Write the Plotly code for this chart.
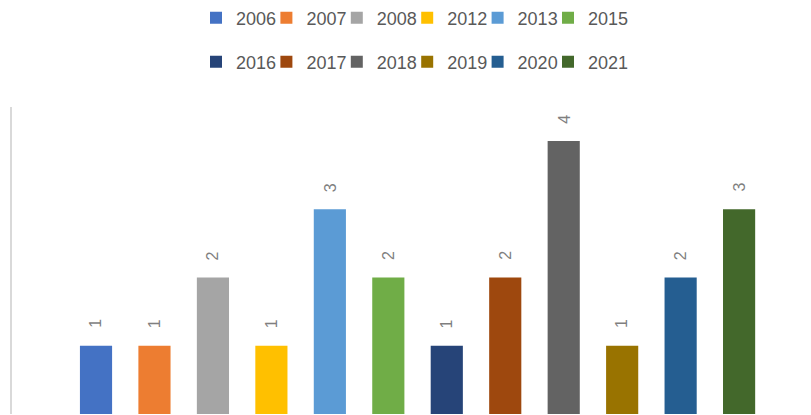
import plotly.graph_objects as go

years = ["2006", "2007", "2008", "2012", "2013", "2015",
         "2016", "2017", "2018", "2019", "2020", "2021"]
counts = [1, 1, 2, 1, 3, 2, 1, 2, 4, 1, 2, 3]
colors = ["#4472C4", "#ED7D31", "#A5A5A5", "#FFC000", "#5B9BD5", "#70AD47",
          "#264478", "#9E480E", "#636363", "#997300", "#255E91", "#43682B"]

FONT = "Liberation Sans"
W, H = 811, 415
# legend layout: 2 rows of 6 entries (pixel positions of each entry's symbol centre)
legend_col_px = [216, 286.4, 356.8, 427.2, 497.6, 568]
legend_row_px = [18, 62]

fig = go.Figure()
layout_legends = {}
for i, (yr, v, c) in enumerate(zip(years, counts, colors)):
    lname = "legend" if i == 0 else f"legend{i + 1}"
    fig.add_trace(go.Bar(
        x=[yr], y=[v], name=yr, marker=dict(color=c, line=dict(width=0)),
        width=0.55, legend=lname, hoverinfo="x+y",
    ))
    fig.add_annotation(x=i, y=v, xref="x", yref="y", text=str(v), showarrow=False,
                       yshift=22, textangle=-90,
                       font=dict(family=FONT, size=16, color="#7f7f7f"))
    col, row = i % 6, i // 6
    layout_legends[lname] = dict(
        orientation="h", xref="container", yref="container",
        x=(legend_col_px[col] - 20) / W, y=1 - legend_row_px[row] / H,
        xanchor="left", yanchor="middle",
        font=dict(family=FONT, size=18, color="#595959"),
        bgcolor="rgba(0,0,0,0)", itemclick=False, itemdoubleclick=False,
    )

fig.update_layout(
    width=W, height=H,
    margin=dict(l=12, r=0, t=107, b=1, autoexpand=False),
    paper_bgcolor="white", plot_bgcolor="white",
    barmode="overlay",
    showlegend=True,
    xaxis=dict(type="category", range=[-1.437, 12.23], showgrid=False,
               showline=False, showticklabels=False, zeroline=False, ticks=""),
    yaxis=dict(range=[0, 4.5], showgrid=False, zeroline=False, showline=True,
               linecolor="#d9d9d9", linewidth=1.5, showticklabels=False, ticks=""),
    **layout_legends,
)

fig.write_html("out.html", config={"displayModeBar": False},
               post_script="document.body.style.margin='0px';document.body.style.overflow='hidden';")
